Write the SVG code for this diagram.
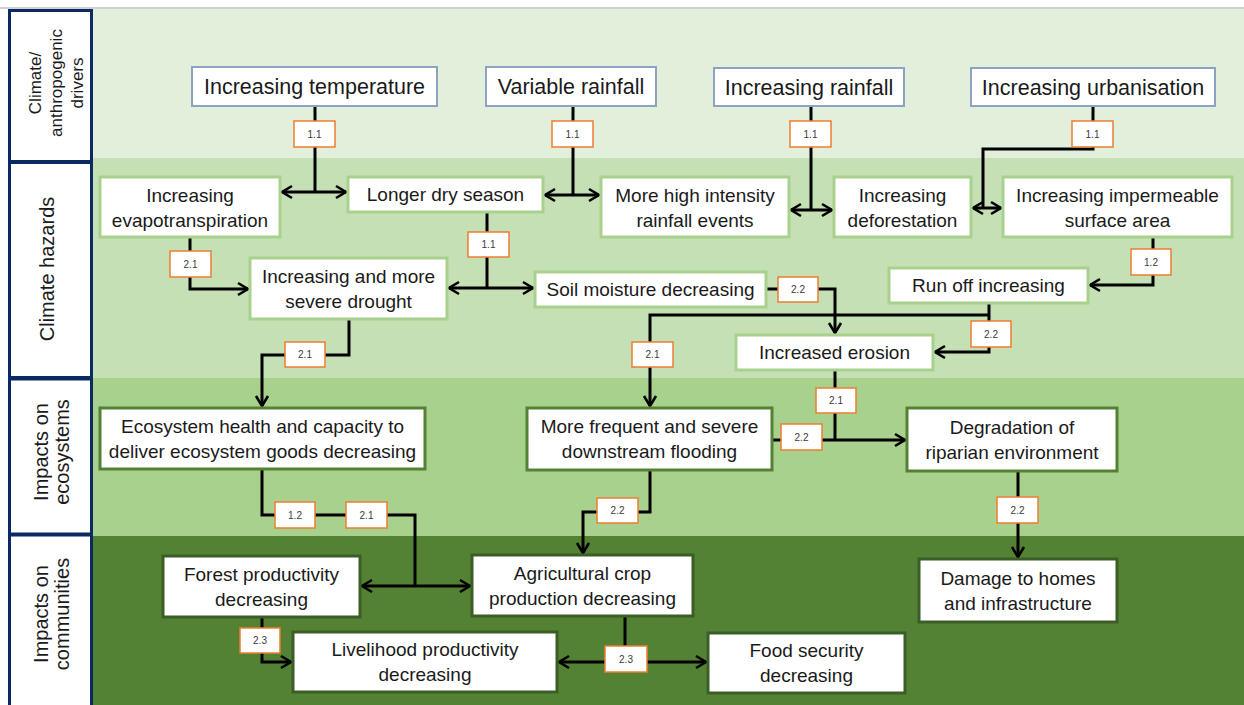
<svg xmlns="http://www.w3.org/2000/svg" width="1244" height="705" viewBox="0 0 1244 705">
<style>
.t{font-family:"Liberation Sans",Arial,sans-serif;fill:#1a1a1a;text-anchor:middle}
.top{font-size:21.5px}
.n{font-size:19px}
.side{font-size:20px}
.lb{font-family:"Liberation Sans",Arial,sans-serif;font-size:10px;fill:#3a3a3a;text-anchor:middle}
.bt{fill:#fff;stroke:#8da3c4;stroke-width:2}
.bh{fill:#fff;stroke:#a9d18e;stroke-width:3}
.be{fill:#fff;stroke:#548235;stroke-width:3}
.bc{fill:#fff;stroke:#3b5e26;stroke-width:3}
.bl{fill:#fff;stroke:#ed7d31;stroke-width:1.5}
.sb{fill:#fff;stroke:#0b2a63;stroke-width:3}
.c{fill:none;stroke:#000;stroke-width:3}
.a{marker-end:url(#ah)}
.d{marker-start:url(#ah);marker-end:url(#ah)}
</style>
<defs>
<marker id="ah" markerUnits="userSpaceOnUse" markerWidth="16" markerHeight="16" viewBox="-13 -8 16 16" refX="0" refY="0" orient="auto-start-reverse">
<path d="M-10,-6 L0,0 L-10,6" fill="none" stroke="#000" stroke-width="2.6"/>
</marker>
</defs>
<rect x="0" y="0" width="1244" height="705" fill="#fff"/>
<rect x="0" y="7" width="1244" height="2" fill="#d0d0d0"/>
<g id="bands">
<rect x="92" y="9" width="1152" height="149" fill="#e2efda"/>
<rect x="92" y="158" width="1152" height="220" fill="#c5e0b4"/>
<rect x="92" y="378" width="1152" height="158" fill="#a9d18e"/>
<rect x="92" y="536" width="1152" height="169" fill="#548235"/>
</g>
<g id="side-drivers">
<rect class="sb" x="9.5" y="10.5" width="82" height="151"/>
<text class="t" font-size="17" transform="translate(41,83) rotate(-90)" x="0" y="0">Climate/</text>
<text class="t" font-size="17" transform="translate(62,83) rotate(-90)" x="0" y="0">anthropogenic</text>
<text class="t" font-size="17" transform="translate(83,83) rotate(-90)" x="0" y="0">drivers</text>
</g>
<g id="side-hazards">
<rect class="sb" x="9.5" y="162.5" width="82" height="215"/>
<text class="t side" transform="translate(54,269) rotate(-90)">Climate hazards</text>
</g>
<g id="side-ecosystems">
<rect class="sb" x="9.5" y="379" width="82" height="155"/>
<text class="t side" transform="translate(48,452) rotate(-90)">Impacts on</text>
<text class="t side" transform="translate(69,452) rotate(-90)">ecosystems</text>
</g>
<g id="side-communities">
<rect class="sb" x="9.5" y="535" width="82" height="180"/>
<text class="t side" transform="translate(48,614) rotate(-90)">Impacts on</text>
<text class="t side" transform="translate(69,614) rotate(-90)">communities</text>
</g>

<g id="connectors">
<path class="c" d="M315,106 V192"/>
<path class="c d" d="M282,192 H346"/>
<path class="c" d="M573,106 V195"/>
<path class="c d" d="M545,195 H599"/>
<path class="c" d="M811,106 V210"/>
<path class="c d" d="M791,210 H832"/>
<path class="c" d="M1093,106 V149 H983 V208"/>
<path class="c d" d="M973,208 H1001"/>
<path class="c" d="M487,212 V288"/>
<path class="c d" d="M449,288 H533"/>
<path class="c a" d="M190,237 V289 H248"/>
<path class="c a" d="M349,319 V355 H262 V406"/>
<path class="c a" d="M766,289 H835 V333"/>
<path class="c a" d="M989,303 V352 H935"/>
<path class="c a" d="M989,315 H650 V406"/>
<path class="c a" d="M1153,237 V285 H1090"/>
<path class="c" d="M835,370 V440"/>
<path class="c a" d="M772,440 H905"/>
<path class="c" d="M262,469 V515 H415 V586"/>
<path class="c d" d="M362,586 H470"/>
<path class="c a" d="M650,470 V512 H583 V553"/>
<path class="c a" d="M1018,471 V557"/>
<path class="c a" d="M262,617 V662 H291"/>
<path class="c" d="M625,616 V662"/>
<path class="c d" d="M559,662 H706"/>
</g>

<g id="labels">
<g id="l1"><rect class="bl" x="294" y="121" width="41" height="26"/><text class="lb" x="314.5" y="137.5">1.1</text></g>
<g id="l2"><rect class="bl" x="552" y="121" width="41" height="26"/><text class="lb" x="572.5" y="137.5">1.1</text></g>
<g id="l3"><rect class="bl" x="790" y="121" width="41" height="26"/><text class="lb" x="810.5" y="137.5">1.1</text></g>
<g id="l4"><rect class="bl" x="1072" y="121" width="41" height="26"/><text class="lb" x="1092.5" y="137.5">1.1</text></g>
<g id="l5"><rect class="bl" x="468" y="232" width="41" height="25"/><text class="lb" x="488.5" y="248">1.1</text></g>
<g id="l6"><rect class="bl" x="170" y="251" width="41" height="26"/><text class="lb" x="190.5" y="267.5">2.1</text></g>
<g id="l7"><rect class="bl" x="285" y="342" width="40" height="25"/><text class="lb" x="305" y="358">2.1</text></g>
<g id="l8"><rect class="bl" x="778" y="277" width="40" height="25"/><text class="lb" x="798" y="293">2.2</text></g>
<g id="l9"><rect class="bl" x="632" y="342" width="41" height="25"/><text class="lb" x="652.5" y="358">2.1</text></g>
<g id="l10"><rect class="bl" x="1131" y="249" width="40" height="26"/><text class="lb" x="1151" y="265.5">1.2</text></g>
<g id="l11"><rect class="bl" x="971" y="321" width="40" height="26"/><text class="lb" x="991" y="337.5">2.2</text></g>
<g id="l12"><rect class="bl" x="816" y="388" width="40" height="25"/><text class="lb" x="836" y="404">2.1</text></g>
<g id="l13"><rect class="bl" x="781" y="424" width="41" height="26"/><text class="lb" x="801.5" y="440.5">2.2</text></g>
<g id="l14"><rect class="bl" x="275" y="502" width="40" height="26"/><text class="lb" x="295" y="518.5">1.2</text></g>
<g id="l15"><rect class="bl" x="346" y="502" width="41" height="26"/><text class="lb" x="366.5" y="518.5">2.1</text></g>
<g id="l16"><rect class="bl" x="597" y="498" width="41" height="25"/><text class="lb" x="617.5" y="514">2.2</text></g>
<g id="l17"><rect class="bl" x="997" y="497" width="41" height="26"/><text class="lb" x="1017.5" y="513.5">2.2</text></g>
<g id="l18"><rect class="bl" x="240" y="628" width="40" height="25"/><text class="lb" x="260" y="644">2.3</text></g>
<g id="l19"><rect class="bl" x="605" y="646" width="42" height="26"/><text class="lb" x="626" y="662.5">2.3</text></g>
</g>

<g id="n-temp"><rect class="bt" x="192" y="67" width="245" height="39"/><text class="t top" x="314.5" y="94">Increasing temperature</text></g>
<g id="n-varrain"><rect class="bt" x="486" y="67" width="170" height="39"/><text class="t top" x="571" y="94">Variable rainfall</text></g>
<g id="n-incrain"><rect class="bt" x="714" y="68" width="190" height="38"/><text class="t top" x="809" y="94.5">Increasing rainfall</text></g>
<g id="n-urban"><rect class="bt" x="971" y="68" width="244" height="38"/><text class="t top" x="1093" y="94.5">Increasing urbanisation</text></g>

<g id="n-evap"><rect class="bh" x="100" y="177" width="180" height="60"/><text class="t n" x="190" y="201.5">Increasing</text><text class="t n" x="190" y="226.5">evapotranspiration</text></g>
<g id="n-dry"><rect class="bh" x="348" y="177" width="195" height="35"/><text class="t n" x="445.5" y="201">Longer dry season</text></g>
<g id="n-highint"><rect class="bh" x="601" y="177" width="188" height="60"/><text class="t n" x="695" y="201.5">More high intensity</text><text class="t n" x="695" y="226.5">rainfall events</text></g>
<g id="n-defor"><rect class="bh" x="834" y="177" width="137" height="60"/><text class="t n" x="902.5" y="201.5">Increasing</text><text class="t n" x="902.5" y="226.5">deforestation</text></g>
<g id="n-imperm"><rect class="bh" x="1003" y="177" width="229" height="60"/><text class="t n" x="1117.5" y="201.5">Increasing impermeable</text><text class="t n" x="1117.5" y="226.5">surface area</text></g>
<g id="n-drought"><rect class="bh" x="250" y="258" width="197" height="61"/><text class="t n" x="348.5" y="282.5">Increasing and more</text><text class="t n" x="348.5" y="307.5">severe drought</text></g>
<g id="n-soil"><rect class="bh" x="535" y="272" width="231" height="35"/><text class="t n" x="650.5" y="296">Soil moisture decreasing</text></g>
<g id="n-runoff"><rect class="bh" x="889" y="268" width="199" height="35"/><text class="t n" x="988.5" y="292">Run off increasing</text></g>
<g id="n-erosion"><rect class="bh" x="736" y="335" width="197" height="35"/><text class="t n" x="834.5" y="359">Increased erosion</text></g>

<g id="n-ecosys"><rect class="be" x="100" y="408" width="325" height="61"/><text class="t n" x="262.5" y="432.5">Ecosystem health and capacity to</text><text class="t n" x="262.5" y="457.5">deliver ecosystem goods decreasing</text></g>
<g id="n-flood"><rect class="be" x="527" y="408" width="245" height="62"/><text class="t n" x="649.5" y="433">More frequent and severe</text><text class="t n" x="649.5" y="458">downstream flooding</text></g>
<g id="n-ripar"><rect class="be" x="907" y="408" width="210" height="63"/><text class="t n" x="1012" y="433.5">Degradation of</text><text class="t n" x="1012" y="458.5">riparian environment</text></g>

<g id="n-forest"><rect class="bc" x="163" y="556" width="197" height="61"/><text class="t n" x="261.5" y="580.5">Forest productivity</text><text class="t n" x="261.5" y="605.5">decreasing</text></g>
<g id="n-agri"><rect class="bc" x="472" y="555" width="221" height="61"/><text class="t n" x="582.5" y="579.5">Agricultural crop</text><text class="t n" x="582.5" y="604.5">production decreasing</text></g>
<g id="n-damage"><rect class="bc" x="919" y="559" width="198" height="63"/><text class="t n" x="1018" y="584.5">Damage to homes</text><text class="t n" x="1018" y="609.5">and infrastructure</text></g>
<g id="n-liveli"><rect class="bc" x="293" y="632" width="264" height="60"/><text class="t n" x="425" y="656">Livelihood productivity</text><text class="t n" x="425" y="681">decreasing</text></g>
<g id="n-food"><rect class="bc" x="708" y="633" width="197" height="60"/><text class="t n" x="806.5" y="657">Food security</text><text class="t n" x="806.5" y="682">decreasing</text></g>
</svg>
